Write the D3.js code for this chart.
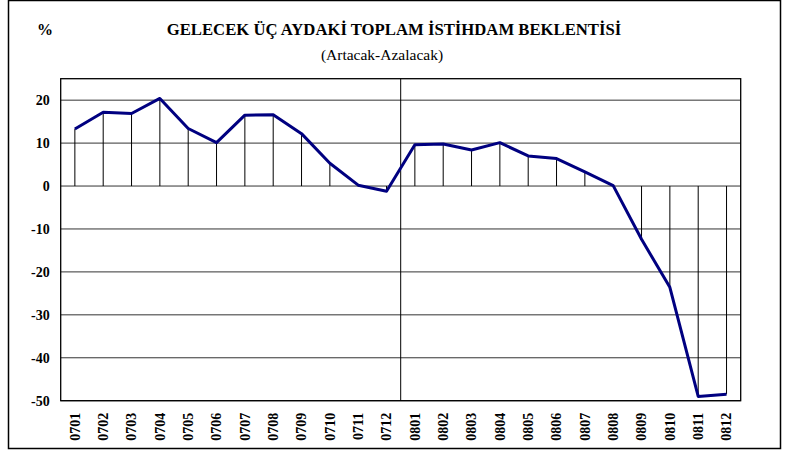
<!DOCTYPE html>
<html>
<head>
<meta charset="utf-8">
<script src="https://cdn.jsdelivr.net/npm/d3@7"></script>
<style>
  body { margin: 0; background: #fff; }
</style>
</head>
<body>
<div id="chart-area"></div>
<script>
// data
const months = ["0701","0702","0703","0704","0705","0706","0707","0708","0709","0710","0711","0712",
  "0801","0802","0803","0804","0805","0806","0807","0808","0809","0810","0811","0812"]
const values = [13.3, 17.2, 16.9, 20.4, 13.4, 10.1, 16.5, 16.6, 12.2, 5.3, 0.2, -1.2,
  9.6, 9.8, 8.4, 10.1, 7.0, 6.4, 3.3, 0.1, -12.4, -23.6, -49.0, -48.5]
const yTicks = [20, 10, 0, -10, -20, -30, -40, -50]

const FONT = "'Liberation Serif', 'Times New Roman', Times, serif"
const W = 790, H = 450
const MARGIN = { LEFT: 60.7, RIGHT: 49.3, TOP: 78.7, BOTTOM: 49.3 }
const WIDTH = W - MARGIN.LEFT - MARGIN.RIGHT
const HEIGHT = H - MARGIN.TOP - MARGIN.BOTTOM

const svg = d3.select("#chart-area").append("svg")
  .attr("width", W)
  .attr("height", H)
  .style("font-family", FONT)

// outer frame
svg.append("rect")
  .attr("x", 8.5).attr("y", 0.5)
  .attr("width", 772).attr("height", 448)
  .attr("fill", "none").attr("stroke", "#000").attr("stroke-width", 1.5)

// titles
svg.append("text")
  .attr("x", 37).attr("y", 35)
  .style("font-family", FONT)
  .attr("font-size", "16px").attr("font-weight", "bold")
  .text("%")
svg.append("text")
  .attr("x", 394).attr("y", 35)
  .attr("text-anchor", "middle")
  .style("font-family", FONT)
  .attr("font-size", "16.7px").attr("font-weight", "bold")
  .text("GELECEK ÜÇ AYDAKİ TOPLAM İSTİHDAM BEKLENTİSİ")
svg.append("text")
  .attr("x", 382).attr("y", 60)
  .attr("text-anchor", "middle")
  .style("font-family", FONT)
  .attr("font-size", "15.5px")
  .text("(Artacak-Azalacak)")

const g = svg.append("g")
  .attr("transform", `translate(${MARGIN.LEFT}, ${MARGIN.TOP})`)

// scales
const x = d3.scaleBand().domain(months).range([0, WIDTH])
const y = d3.scaleLinear().domain([-50, 25]).range([HEIGHT, 0])
const cx = d => x(d) + x.bandwidth() / 2

// gridlines
g.selectAll(".grid").data(yTicks).enter().append("line")
  .attr("x1", 0).attr("x2", WIDTH)
  .attr("y1", d => y(d)).attr("y2", d => y(d))
  .attr("stroke", "#333").attr("stroke-width", 1)

// year separator
g.append("line")
  .attr("x1", x("0801")).attr("x2", x("0801"))
  .attr("y1", 0).attr("y2", HEIGHT)
  .attr("stroke", "#000").attr("stroke-width", 1)

// drop lines
g.selectAll(".drop").data(months).enter().append("line")
  .attr("x1", d => cx(d)).attr("x2", d => cx(d))
  .attr("y1", y(0)).attr("y2", (d, i) => y(values[i]))
  .attr("stroke", "#000").attr("stroke-width", 1)

// plot border
g.append("rect")
  .attr("width", WIDTH).attr("height", HEIGHT)
  .attr("fill", "none").attr("stroke", "#000").attr("stroke-width", 1.3)

// line
const line = d3.line()
  .x((d, i) => cx(months[i]))
  .y(d => y(d))
g.append("path")
  .attr("d", line(values))
  .attr("fill", "none")
  .attr("stroke", "#000080")
  .attr("stroke-width", 3)
  .attr("stroke-linejoin", "round")

// y axis labels
const yAxis = g.append("g")
  .call(d3.axisLeft(y).tickValues(yTicks).tickSize(0).tickPadding(11)
    .tickFormat(d => String(d)))
yAxis.attr("font-family", null)
yAxis.select(".domain").remove()
yAxis.selectAll("text")
  .style("font-family", FONT)
  .attr("font-size", "14px").attr("font-weight", "bold")
  .attr("fill", "#000")

// x axis labels
const xAxis = g.append("g")
  .attr("transform", `translate(0, ${HEIGHT})`)
  .call(d3.axisBottom(x).tickSize(0))
xAxis.attr("font-family", null)
xAxis.select(".domain").remove()
xAxis.selectAll("text")
  .style("font-family", FONT)
  .attr("font-size", "14px").attr("font-weight", "bold")
  .attr("fill", "#000")
  .attr("text-anchor", "end")
  .attr("transform", "rotate(-90)")
  .attr("x", -12).attr("y", 0).attr("dy", "0.35em")
</script>
</body>
</html>
